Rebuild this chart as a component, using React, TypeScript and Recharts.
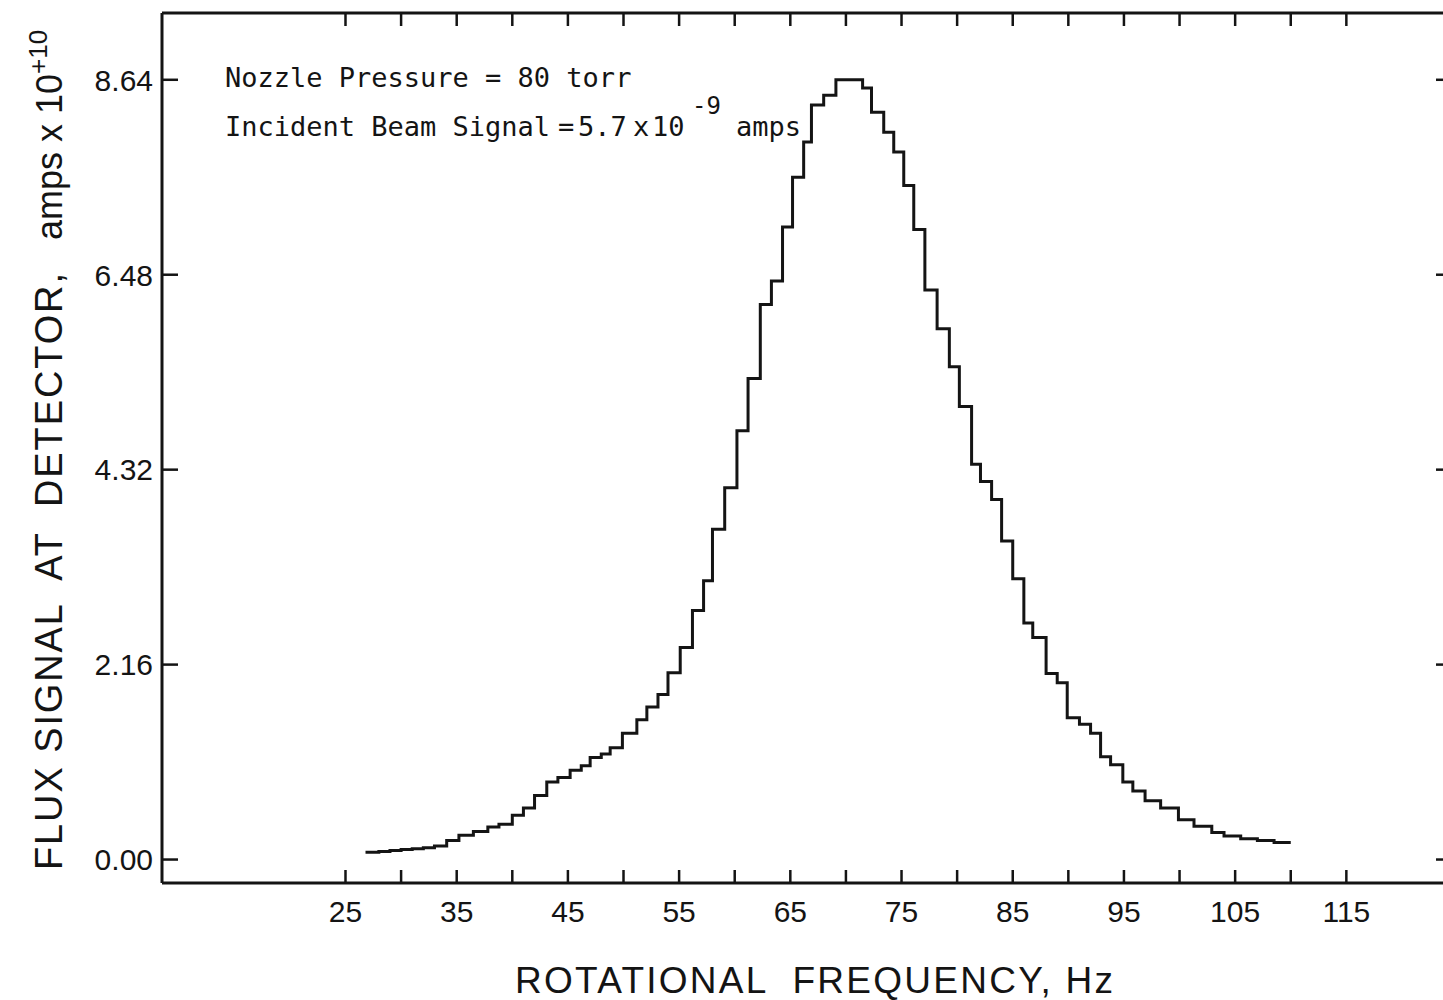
import { LineChart, Line, XAxis, YAxis } from "recharts";

// rotational frequency (Hz) at the start of each recorder step
const freqHz = [
  26.8, 28, 29, 30, 31, 32, 33, 34.1, 35.2, 36.5, 37.8, 38.8, 40, 41, 42, 43.1,
  44.1, 45.2, 46.2, 47, 48, 48.8, 49.9, 51.2, 52.1, 53.1, 54, 55.1, 56.2, 57.2,
  58, 59.1, 60.2, 61.2, 62.3, 63.3, 64.3, 65.2, 66.2, 66.9, 68, 69.1, 71.5,
  72.3, 73.4, 74.3, 75.2, 76.1, 77.1, 78.2, 79.3, 80.2, 81.3, 82.1, 83.1, 84,
  85, 86, 86.8, 88, 89, 89.9, 91, 92, 92.9, 93.8, 94.9, 95.8, 96.9, 98.3, 99.9,
  101.3, 102.9, 104, 105.5, 107, 108.5, 110,
];

// flux signal at detector, amps x 10^+10
const fluxSignal = [
  0.08, 0.09, 0.1, 0.11, 0.12, 0.13, 0.15, 0.21, 0.27, 0.31, 0.36, 0.39, 0.49,
  0.57, 0.71, 0.86, 0.91, 0.99, 1.04, 1.13, 1.17, 1.24, 1.4, 1.55, 1.69, 1.83,
  2.07, 2.35, 2.76, 3.09, 3.66, 4.12, 4.75, 5.33, 6.15, 6.41, 7.01, 7.56, 7.95,
  8.36, 8.47, 8.64, 8.55, 8.28, 8.06, 7.84, 7.47, 6.98, 6.31, 5.88, 5.46, 5.02,
  4.38, 4.19, 3.99, 3.53, 3.11, 2.62, 2.46, 2.06, 1.96, 1.57, 1.5, 1.4, 1.14,
  1.05, 0.86, 0.76, 0.65, 0.57, 0.44, 0.37, 0.3, 0.26, 0.23, 0.21, 0.19, 0.19,
];

const xTicks = [25, 30, 35, 40, 45, 50, 55, 60, 65, 70, 75, 80, 85, 90, 95, 100, 105, 110, 115];
const xLabelled = [25, 35, 45, 55, 65, 75, 85, 95, 105, 115];
const yTicks = [0, 2.16, 4.32, 6.48, 8.64];

const data = freqHz.map((hz, i) => ({ hz, flux: fluxSignal[i] }));

const INK = "#141414";
const SANS = "'Liberation Sans', Arial, sans-serif";
const MONO = "'DejaVu Sans Mono', 'Liberation Mono', monospace";

const BottomTick = (props: any) => {
  const { x, y, payload } = props;
  return (
    <g>
      <line x1={x} x2={x} y1={y} y2={y - 13} stroke={INK} strokeWidth={2.5} />
      {xLabelled.includes(payload.value) && (
        <text x={x} y={y + 39} textAnchor="middle" fontFamily={SANS} fontSize={30} fill={INK}>
          {payload.value}
        </text>
      )}
    </g>
  );
};

const TopTick = (props: any) => {
  const { x, y } = props;
  return <line x1={x} x2={x} y1={y} y2={y + 13} stroke={INK} strokeWidth={2.5} />;
};

const LeftTick = (props: any) => {
  const { x, y, payload } = props;
  return (
    <g>
      <line x1={x} x2={x + 16} y1={y} y2={y} stroke={INK} strokeWidth={2.5} />
      <text x={x - 9} y={y} dy="0.36em" textAnchor="end" fontFamily={SANS} fontSize={30} fill={INK}>
        {payload.value.toFixed(2)}
      </text>
    </g>
  );
};

const RightTick = (props: any) => {
  const { x, y } = props;
  return <line x1={x - 16} x2={x} y1={y} y2={y} stroke={INK} strokeWidth={2.5} />;
};

export default function App() {
  return (
    <div
      style={{
        position: "absolute",
        left: 0,
        top: 0,
        width: 1443,
        height: 1000,
        overflow: "hidden",
        background: "#fff",
      }}
    >
      <LineChart
        width={1470}
        height={1000}
        data={data}
        margin={{ top: 8, right: 13, bottom: 77, left: 102 }}
      >
        <XAxis
          xAxisId="bottom"
          dataKey="hz"
          type="number"
          domain={[8.5, 124.5]}
          allowDataOverflow
          ticks={xTicks}
          interval={0}
          height={40}
          tickSize={0}
          tickMargin={0}
          tickLine={false}
          tick={BottomTick}
          axisLine={{ stroke: INK, strokeWidth: 3 }}
        />
        <XAxis
          xAxisId="top"
          orientation="top"
          dataKey="hz"
          type="number"
          domain={[8.5, 124.5]}
          allowDataOverflow
          ticks={xTicks}
          interval={0}
          height={5}
          tickSize={0}
          tickMargin={0}
          tickLine={false}
          tick={TopTick}
          axisLine={{ stroke: INK, strokeWidth: 3 }}
        />
        <YAxis
          yAxisId="left"
          type="number"
          domain={[-0.26, 9.38]}
          allowDataOverflow
          ticks={yTicks}
          interval={0}
          width={60}
          tickSize={0}
          tickMargin={0}
          tickLine={false}
          tick={LeftTick}
          axisLine={{ stroke: INK, strokeWidth: 3 }}
        />
        <YAxis
          yAxisId="right"
          orientation="right"
          type="number"
          domain={[-0.26, 9.38]}
          allowDataOverflow
          ticks={yTicks}
          interval={0}
          width={5}
          tickSize={0}
          tickMargin={0}
          tickLine={false}
          tick={RightTick}
          axisLine={{ stroke: INK, strokeWidth: 3 }}
        />
        <Line
          xAxisId="bottom"
          yAxisId="left"
          type="stepAfter"
          dataKey="flux"
          stroke={INK}
          strokeWidth={3}
          dot={false}
          isAnimationActive={false}
        />

        <text
          x={515}
          y={993}
          textLength={598}
          lengthAdjust="spacing"
          fontFamily={SANS}
          fontSize={37}
          fill={INK}
          style={{ whiteSpace: "pre" }}
        >
          ROTATIONAL  FREQUENCY, Hz
        </text>

        <g transform="rotate(-90)" fontFamily={SANS} fill={INK}>
          <text
            x={-870}
            y={62}
            textLength={597}
            lengthAdjust="spacing"
            fontSize={38}
            style={{ whiteSpace: "pre" }}
          >
            FLUX SIGNAL  AT  DETECTOR,
          </text>
          <text x={-240} y={62} fontSize={36} style={{ whiteSpace: "pre" }}>
            amps x 10
            <tspan dy={-15} fontSize={26}>
              +10
            </tspan>
          </text>
        </g>

        <g fontFamily={MONO} fontSize={27} fill={INK}>
          <text x={225} y={87}>Nozzle Pressure = 80 torr</text>
          <text x={225} y={136}>Incident Beam Signal</text>
          <text x={558} y={136}>=</text>
          <text x={578} y={136}>5.7</text>
          <text x={633} y={136}>x</text>
          <text x={652} y={136}>10</text>
          <text x={692} y={114} fontSize={24}>
            -9
          </text>
          <text x={736} y={136}>amps</text>
        </g>
      </LineChart>
    </div>
  );
}
